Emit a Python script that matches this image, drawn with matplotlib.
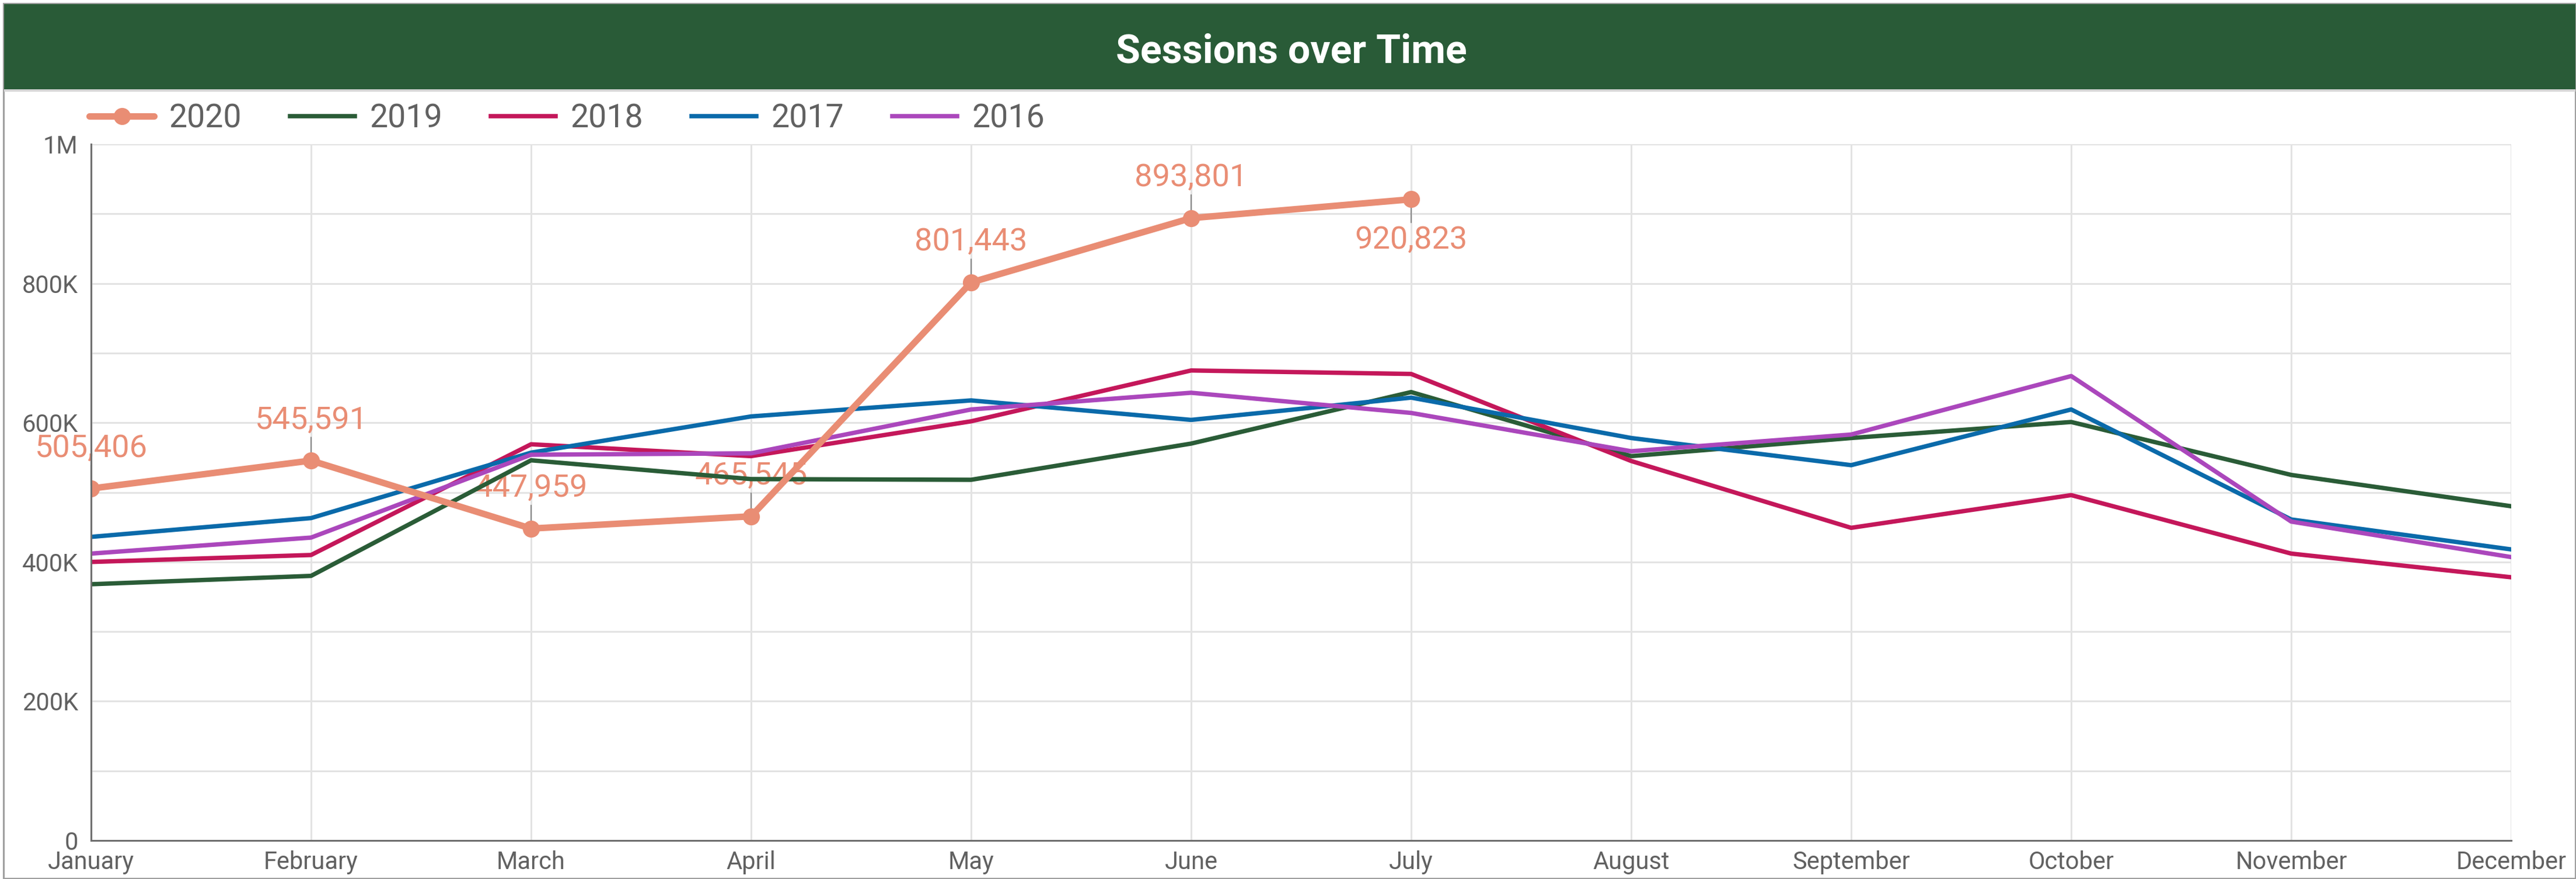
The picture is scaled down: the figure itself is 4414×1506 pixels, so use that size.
import matplotlib.pyplot as plt
from matplotlib.patches import Rectangle
from matplotlib.ticker import MultipleLocator, FuncFormatter

plt.rcParams['font.family'] = ['Roboto', 'DejaVu Sans']

months = ['January', 'February', 'March', 'April', 'May', 'June', 'July',
          'August', 'September', 'October', 'November', 'December']

# sessions per month (2020 has only Jan-Jul)
s2020 = [505406, 545591, 447959, 465545, 801443, 893801, 920823]
s2019 = [368000, 380000, 546000, 519000, 518000, 570000, 644000, 552000, 578000, 601000, 525000, 480000]
s2018 = [400000, 410000, 569000, 552000, 602000, 675000, 670000, 545000, 449000, 496000, 412000, 378000]
s2017 = [436000, 463000, 557000, 609000, 632000, 604000, 636000, 578000, 539000, 619000, 461000, 418000]
s2016 = [412000, 435000, 554000, 556000, 619000, 643000, 614000, 559000, 583000, 667000, 458000, 407000]

years = ['2020', '2019', '2018', '2017', '2016']
colors = {'2020': '#E98D74', '2019': '#2A5C37', '2018': '#C4175A',
          '2017': '#0A6AAA', '2016': '#AB47BC'}
labels_below = ['July']

grey = '#616161'

W, H = 4414, 1506
fig = plt.figure(figsize=(W / 100, H / 100), dpi=100)

# frame and title bar
fig.patches.append(Rectangle((6 / W, 1 / H), 4407 / W, 1499 / H, transform=fig.transFigure,
                             fill=False, edgecolor='#9e9e9e', linewidth=2.2, zorder=0))
fig.patches.append(Rectangle((7 / W, 1 - 157 / H), 4406 / W, 4 / H, transform=fig.transFigure,
                             facecolor='#d6d6d6', edgecolor='none', zorder=1))
fig.patches.append(Rectangle((7 / W, 1 - 153 / H), 4406 / W, 146 / H, transform=fig.transFigure,
                             facecolor='#295B37', edgecolor='none', zorder=1))
fig.text(2213 / W, 1 - 107 / H, 'Sessions over Time', color='white', fontsize=49,
         fontweight='bold', ha='center', va='baseline')

ax = fig.add_axes([156 / W, 66 / H, (4303 - 156) / W, (1440 - 247) / H])

x = list(range(len(months)))
series = {'2020': s2020, '2019': s2019, '2018': s2018, '2017': s2017, '2016': s2016}
for k, yr in enumerate(years):
    vals = series[yr]
    if yr == '2020':
        ax.plot(x[:len(vals)], vals, color=colors[yr], lw=8, marker='o', markersize=20,
                label=yr, zorder=10, solid_capstyle='round')
    else:
        ax.plot(x, vals, color=colors[yr], lw=5.4, label=yr, zorder=5 + k)

# data labels for 2020
for i, v in enumerate(s2020):
    dy = -50 if months[i] in labels_below else 50
    ax.annotate(f'{v:,}', xy=(i, v), xytext=(0, dy), textcoords='offset points',
                ha='center', va='center', fontsize=39, color=colors['2020'], zorder=3,
                arrowprops=dict(arrowstyle='-', color='#8a8a8a', lw=1.6,
                                shrinkA=1, shrinkB=4))

ax.set_xlim(0, 11)
ax.set_ylim(0, 1000000)
ax.set_xticks(x)
ax.set_xticklabels(months)
ax.yaxis.set_major_locator(MultipleLocator(200000))
ax.yaxis.set_minor_locator(MultipleLocator(100000))
ax.yaxis.set_major_formatter(FuncFormatter(
    lambda v, p: '0' if v == 0 else ('1M' if v >= 1e6 else f'{int(v / 1000)}K')))

ax.grid(True, which='both', color='#e3e3e3', lw=2.2, zorder=0)
ax.set_axisbelow(True)
ax.tick_params(which='both', length=0, colors=grey, labelsize=30)
ax.tick_params(axis='y', pad=16)
ax.tick_params(axis='x', pad=12)
for s in ['top', 'right']:
    ax.spines[s].set_visible(False)
for s in ['left', 'bottom']:
    ax.spines[s].set_color('#6e6e6e')
    ax.spines[s].set_linewidth(2.2)
    ax.spines[s].set_zorder(20)

ax.legend(loc='center left', bbox_to_anchor=(153 / W, 1 - 203 / H),
          bbox_transform=fig.transFigure, ncol=5, frameon=False, fontsize=40,
          labelcolor=grey, handlelength=2.0, handletextpad=0.45, columnspacing=1.5,
          borderpad=0, borderaxespad=0)

fig.savefig('out.png', dpi=100)
